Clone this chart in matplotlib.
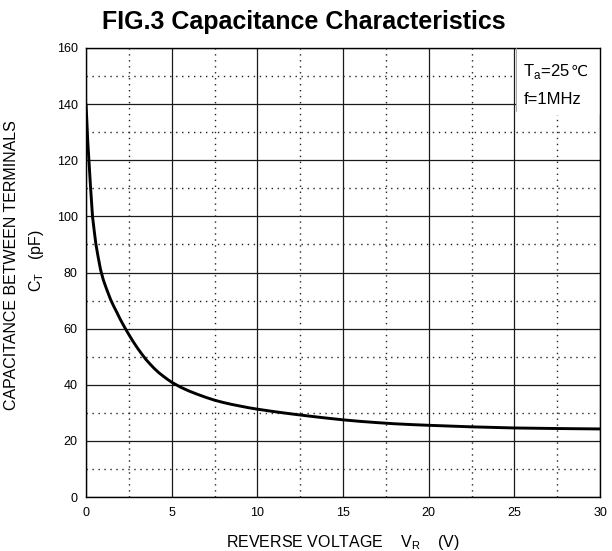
import matplotlib
matplotlib.use("Agg")
import matplotlib.pyplot as plt
from matplotlib.patches import Rectangle
from matplotlib.ticker import MultipleLocator

plt.rcParams['font.family'] = ['Liberation Sans', 'DejaVu Sans']
plt.rcParams['mathtext.fontset'] = 'custom'
plt.rcParams['mathtext.rm'] = 'Liberation Sans'

# Data
reverse_voltage = [0, 0.05, 0.1, 0.17, 0.27, 0.38, 0.48, 0.58, 0.7, 0.85, 1.0, 1.1,
                   1.25, 1.44, 1.6, 1.8, 2.0, 2.27, 2.5, 2.75, 3.0, 3.25, 3.5, 3.75,
                   4.0, 4.25, 4.5, 4.75, 5.0, 5.5, 6.0, 6.5, 7.0, 7.5, 8.0, 8.5, 9.0, 9.5, 10,
                   11, 12, 13, 14, 15, 16, 17, 18, 19, 20, 22.5, 25, 27.5, 30]
capacitance = [140, 134, 127, 120, 110, 100, 94.8, 90, 85.8, 81.0, 77.6, 75.8,
               73.3, 70.3, 68.2, 65.8, 63.3, 60.3, 57.9, 55.4, 53.1, 51.0, 49.0, 47.3,
               45.7, 44.3, 43.1, 41.95, 40.9, 39.2, 37.8, 36.6, 35.5, 34.5, 33.7, 33.0, 32.4,
               31.8, 31.3, 30.4, 29.6, 28.85, 28.15, 27.5, 26.95, 26.5, 26.1, 25.8, 25.55,
               25.0, 24.6, 24.4, 24.25]

x_ticks = [0, 5, 10, 15, 20, 25, 30]
y_ticks = [0, 20, 40, 60, 80, 100, 120, 140, 160]

W, H = 612, 551
fig = plt.figure(figsize=(W / 100, H / 100), dpi=100)
ax = fig.add_axes([86 / W, 54 / H, 514 / W, 449 / H])

ax.set_xlim(0, 30)
ax.set_ylim(0, 160)
ax.set_xticks(x_ticks)
ax.set_yticks(y_ticks)
ax.xaxis.set_minor_locator(MultipleLocator(2.5))
ax.yaxis.set_minor_locator(MultipleLocator(10))
ax.set_axisbelow(True)
ax.grid(which='major', color='#1a1a1a', linewidth=0.9, linestyle='-')
ax.grid(which='minor', color='#222222', linewidth=1.0, linestyle=(0, (1, 3.3)))
ax.tick_params(which='both', length=0)
ax.tick_params(axis='y', pad=6, labelsize=9)
ax.tick_params(axis='x', pad=7, labelsize=9)
for s in ax.spines.values():
    s.set_color('black')
    s.set_linewidth(1.0)

ax.plot(reverse_voltage, capacitance, color='black', linewidth=2.1,
        solid_capstyle='round', solid_joinstyle='round', zorder=3)

# condition box
ax.add_patch(Rectangle((0.837, 0.851), 0.163, 0.149, transform=ax.transAxes,
                       facecolor='white', edgecolor='none', zorder=2.5))
ax.plot([0.837, 0.837], [0.86, 1.0], transform=ax.transAxes, color='#999999',
        linewidth=0.6, zorder=2.6)
t1 = ax.text(0.851, 0.9376, r"T$_\mathregular{a}$=25", transform=ax.transAxes,
             va='baseline', ha='left', fontsize=12, zorder=4)
ax.text(0.851, 0.875, "f=1MHz", transform=ax.transAxes,
        va='baseline', ha='left', fontsize=12, zorder=4)
fig.canvas.draw()
bb = t1.get_window_extent()
xa = ax.transAxes.inverted().transform((bb.x1, bb.y0))[0]
ax.text(xa + 0.001, 0.9376, "\u2103", transform=ax.transAxes, va='baseline', ha='left',
        fontsize=11, family=['DejaVu Sans'], zorder=4)

# title
fig.text(303.5 / W, 1 - 29 / H, "FIG.3 Capacitance Characteristics", ha='center',
         va='baseline', fontsize=18, fontweight='bold')

# axis labels
ax.set_xlabel(r"REVERSE VOLTAGE    V$_\mathregular{R}$    (V)", fontsize=11.5, labelpad=10)
fig.text(12 / W, 1 - 265 / H, "CAPACITANCE BETWEEN TERMINALS", rotation=90,
         ha='center', va='center', fontsize=11.5)
fig.text(37 / W, 1 - 261 / H, r"C$_\mathregular{T}$   (pF)", rotation=90,
         ha='center', va='center', fontsize=11.5)

fig.savefig("out.png", dpi=100)
